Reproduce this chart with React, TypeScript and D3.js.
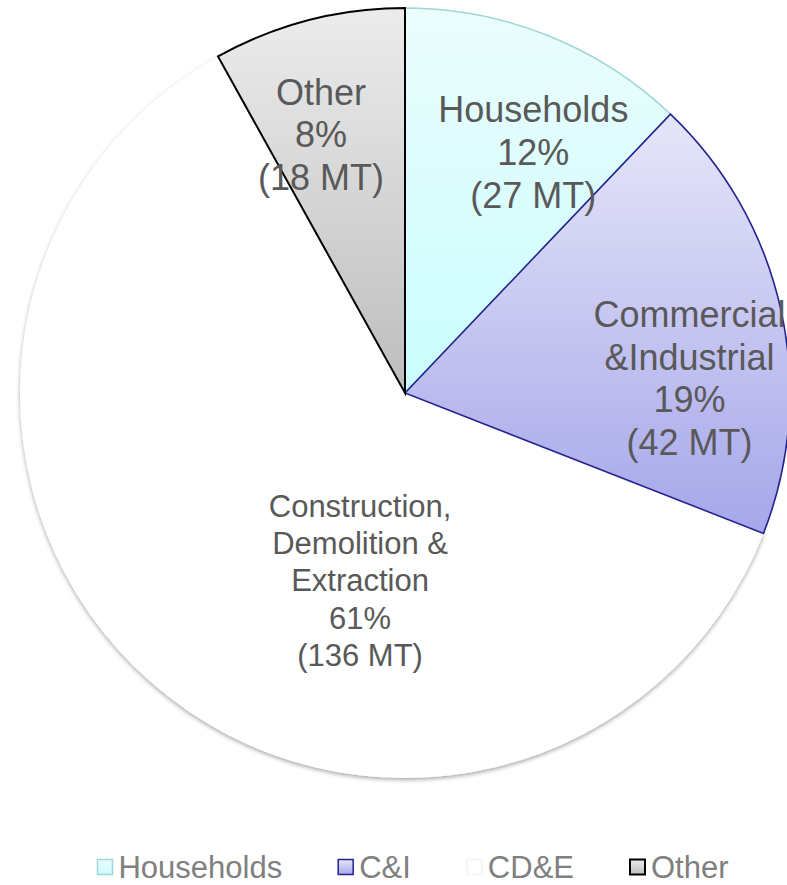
import React from 'react';
import * as d3 from 'd3';

// waste generation by sector, million tonnes
const sectors = ['Households', 'C&I', 'CD&E', 'Other'];
const tonnes = [27, 42, 136, 18];
const labelLines = [
  ['Households'],
  ['Commercial', '&Industrial'],
  ['Construction,', 'Demolition &', 'Extraction'],
  ['Other'],
];

const W = 787;
const H = 885;
const cx = 405;
const cy = 393;
const R = 385;

// slice look: gradient top/bottom, border
const looks: Record<string, { top: string; bottom: string; stroke: string; sw: number }> = {
  Households: { top: '#ecfdfd', bottom: '#c9fdfd', stroke: '#9fd6d6', sw: 1.5 },
  'C&I': { top: '#e6e6f9', bottom: '#a6a6ea', stroke: '#232390', sw: 1.6 },
  'CD&E': { top: '#ffffff', bottom: '#ffffff', stroke: 'none', sw: 0 },
  Other: { top: '#ececec', bottom: '#bdbdbd', stroke: '#000000', sw: 2 },
};

// label placement: angle (deg, clockwise from top), distance as fraction of R
const labelPlace: Record<string, [number, number, number, number]> = {
  // angle, dist, font size, line height
  Households: [28, 0.71, 36, 43],
  'C&I': [87, 0.74, 36, 42.5],
  'CD&E': [193.5, 0.5, 31, 37.3],
  Other: [342, 0.706, 36, 42.5],
};

const drawOrder = ['CD&E', 'Households', 'C&I', 'Other'];

function textWidth(s: string, size: number) {
  const c = document.createElement('canvas').getContext('2d');
  if (!c) return s.length * size * 0.55;
  c.font = `${size}px "Liberation Sans", Arial, sans-serif`;
  return c.measureText(s).width;
}

export default function App() {
  const total = d3.sum(tonnes);
  const data = sectors.map((s, i) => ({ name: s, value: tonnes[i], lines: labelLines[i] }));
  const pie = d3.pie<any>().sort(null).value(d => d.value);
  const arcs = pie(data);
  const arc = d3.arc<any>().innerRadius(0).outerRadius(R);
  const byName = new Map(arcs.map(a => [a.data.name, a]));

  // legend layout
  const legFont = 31;
  const box = 15;
  const gap = 6;
  const itemGap = 56;
  const widths = sectors.map(s => box + gap + textWidth(s, legFont));
  const legTotal = d3.sum(widths) + itemGap * (sectors.length - 1);
  let lx = 413 - legTotal / 2;
  const legX = widths.map(w => {
    const x = lx;
    lx += w + itemGap;
    return x;
  });
  const legY = 867;

  const font = '"Liberation Sans", Arial, sans-serif';

  return (
    <svg width={W} height={H} style={{ position: 'absolute', left: 0, top: 0, background: '#fff' }}>
      <defs>
        {sectors.map((s, i) => (
          <linearGradient key={s} id={`g${i}`} x1="0" y1="0" x2="0" y2="1">
            <stop offset="0" stopColor={looks[s].top} />
            <stop offset="1" stopColor={looks[s].bottom} />
          </linearGradient>
        ))}
        <filter id="shadow" x="-10%" y="-10%" width="120%" height="120%">
          <feDropShadow dx="0" dy="2" stdDeviation="2.2" floodColor="#000" floodOpacity="0.35" />
        </filter>
      </defs>

      <g transform={`translate(${cx},${cy})`}>
        {drawOrder.map(name => {
          const a = byName.get(name)!;
          const i = sectors.indexOf(name);
          const lk = looks[name];
          return (
            <path
              key={name}
              d={arc(a) as string}
              fill={`url(#g${i})`}
              stroke={lk.stroke}
              strokeWidth={lk.sw}
              strokeLinejoin="miter"
              filter={name === 'CD&E' ? 'url(#shadow)' : undefined}
            />
          );
        })}

        {arcs.map(a => {
          const [ang, dist, fs, lh] = labelPlace[a.data.name];
          const rad = (ang * Math.PI) / 180;
          const x = Math.sin(rad) * dist * R;
          const y = -Math.cos(rad) * dist * R;
          const pct = `${Math.round((a.data.value / total) * 100)}%`;
          const lines = [...a.data.lines, pct, `(${a.data.value} MT)`];
          const y0 = y - ((lines.length - 1) * lh) / 2 + fs * 0.36;
          return (
            <text
              key={a.data.name}
              textAnchor="middle"
              fontFamily={font}
              fontSize={fs}
              fill="#595959"
            >
              {lines.map((l, k) => (
                <tspan key={k} x={x} y={y0 + k * lh}>
                  {l}
                </tspan>
              ))}
            </text>
          );
        })}
      </g>

      <g>
        {sectors.map((s, i) => {
          const lk = looks[s];
          return (
            <g key={s} transform={`translate(${legX[i]},${legY})`}>
              <rect
                x={0}
                y={-box / 2}
                width={box}
                height={box}
                fill={`url(#g${i})`}
                stroke={s === 'CD&E' ? '#f3f3f3' : lk.stroke}
                strokeWidth={s === 'Other' ? 2 : 1.5}
              />
              <text
                x={box + gap}
                y={legFont * 0.36}
                fontFamily={font}
                fontSize={legFont}
                fill="#808080"
              >
                {s}
              </text>
            </g>
          );
        })}
      </g>
    </svg>
  );
}
